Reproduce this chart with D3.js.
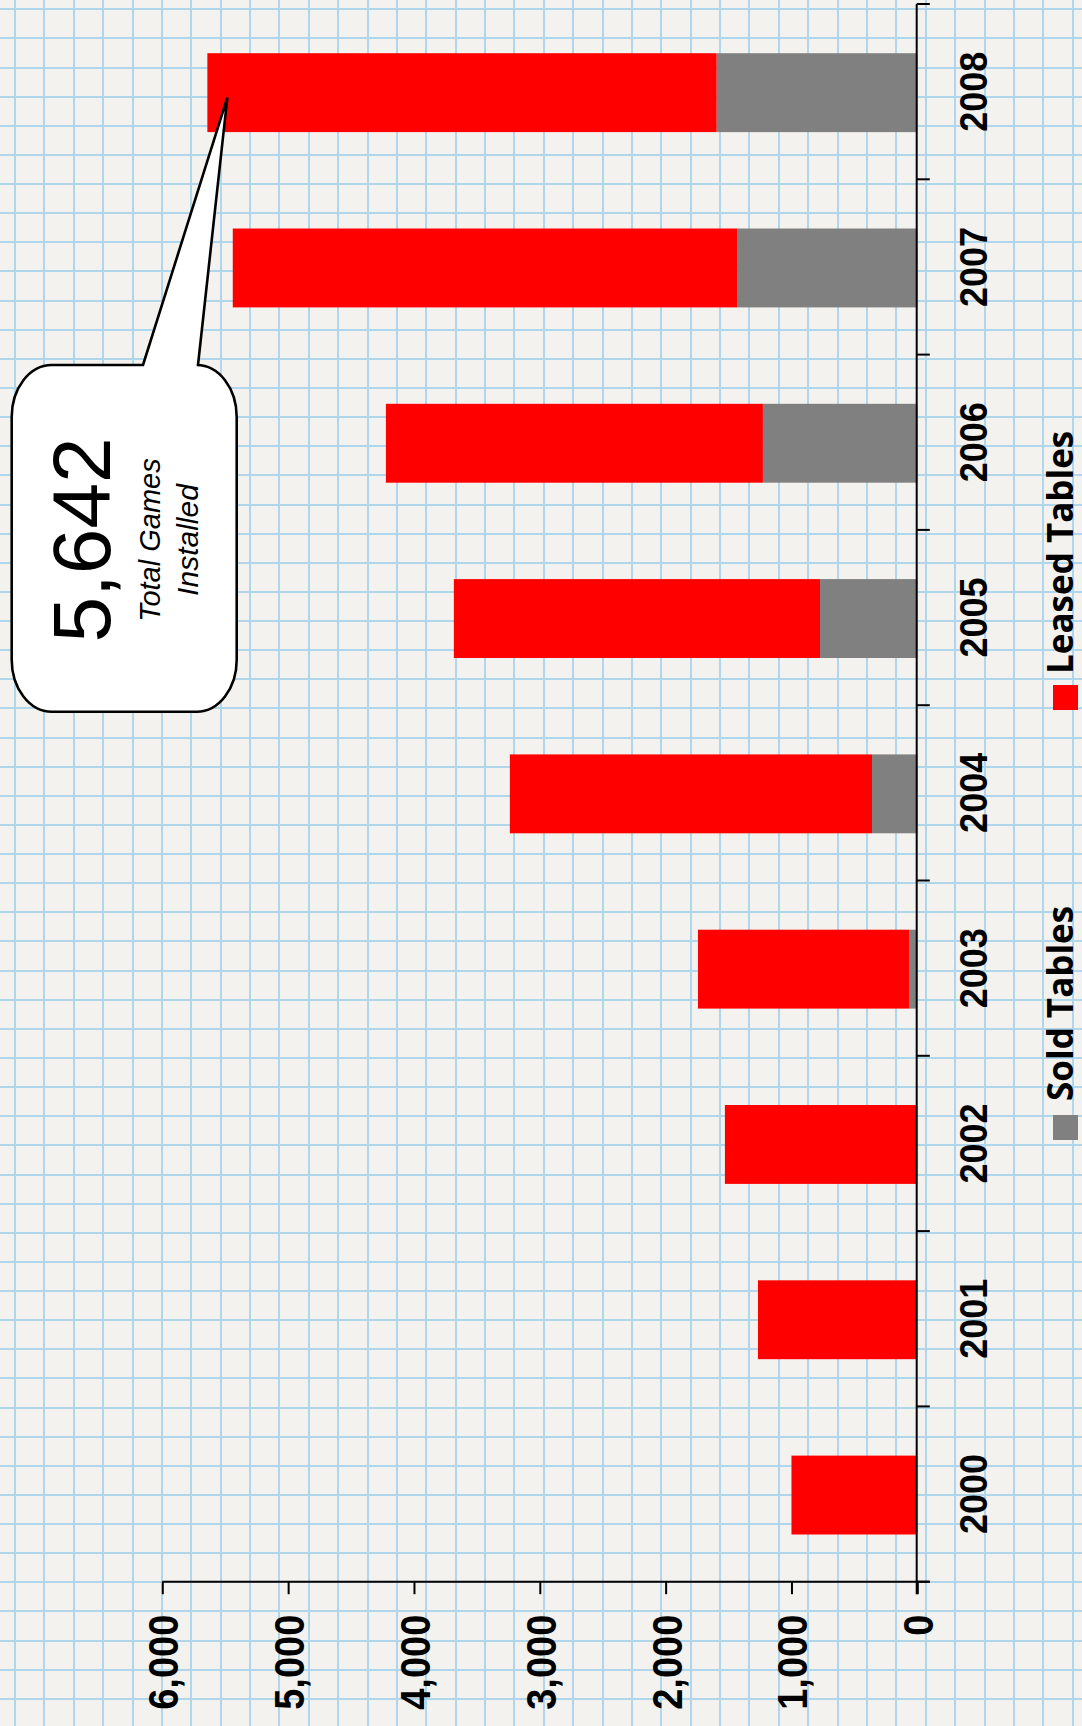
<!DOCTYPE html>
<html>
<head>
<meta charset="utf-8">
<script src="https://cdn.jsdelivr.net/npm/d3@7"></script>
<style>
  html, body { margin: 0; padding: 0; background: #f4f2ee; }
  svg { display: block; }
</style>
</head>
<body>
<svg id="chart" width="1082" height="1726"></svg>
<script>
// ---- data ----
const years = ["2000", "2001", "2002", "2003", "2004", "2005", "2006", "2007", "2008"];
const soldTables = [0, 0, 0, 66, 360, 773, 1227, 1429, 1595];
const leasedTables = [1000, 1266, 1529, 1677, 2878, 2910, 2996, 4011, 4047];
const valueTicks = [0, 1000, 2000, 3000, 4000, 5000, 6000];
const seriesNames = ["Sold Tables", "Leased Tables"];
const seriesColors = ["#808080", "#ff0000"];
const calloutLines = ["Total Games", "Installed"];

// ---- layout ----
const W = 1082, H = 1726;
const svg = d3.select("#chart");

// graph-paper background
svg.append("rect").attr("width", W).attr("height", H).attr("fill", "#f4f2ee");
const grid = svg.append("g").attr("stroke", "#a3d2ea").attr("stroke-width", 2).attr("opacity", 0.85);
for (let x = 15; x < W; x += 29.38) {
  const xx = Math.round(x);
  grid.append("line").attr("x1", xx).attr("x2", xx).attr("y1", 0).attr("y2", H);
}
for (let y = 9.3; y < H; y += 29.13) {
  const yy = Math.round(y);
  grid.append("line").attr("x1", 0).attr("x2", W).attr("y1", yy).attr("y2", yy);
}

// scales (chart is rotated: values run right->left, years bottom->top)
const x0 = 917.3, xMax = 162.3;
const yTop = 4, yBottom = 1581.7;
const xScale = d3.scaleLinear().domain([0, 6000]).range([x0, xMax]);
const yScale = d3.scaleBand().domain(years).range([yBottom, yTop])
  .paddingInner(0.55).paddingOuter(0.275);
const step = yScale.step();

// stacked data
const rows = years.map((y, i) => ({ year: y, sold: soldTables[i], leased: leasedTables[i] }));
const stack = d3.stack().keys(["sold", "leased"])(rows);

const barsG = svg.append("g");
stack.forEach((layer, li) => {
  barsG.selectAll(null).data(layer).enter().append("rect")
    .attr("x", d => xScale(d[1]))
    .attr("width", d => xScale(d[0]) - xScale(d[1]))
    .attr("y", d => yScale(d.data.year) + 1)
    .attr("height", yScale.bandwidth())
    .attr("fill", seriesColors[li]);
});

// value axis (bottom of picture)
const tickLen = 12.5;
const vAxis = svg.append("g").attr("transform", `translate(0,${yBottom})`)
  .call(d3.axisBottom(xScale).tickValues(valueTicks).tickFormat(d3.format(",")).tickSize(tickLen).tickSizeOuter(0));
vAxis.select(".domain").remove();
vAxis.selectAll(".tick line").attr("stroke", "#000").attr("stroke-width", 2);
vAxis.selectAll(".tick text")
  .attr("x", 0).attr("y", 0).attr("dy", "0.37em")
  .attr("transform", "translate(0,33) rotate(-90) scale(1,1.1)")
  .attr("text-anchor", "end")
  .attr("fill", "#000")
  .style("font-family", "'Liberation Sans', Arial, sans-serif")
  .style("font-weight", "bold")
  .style("font-size", "38px");
svg.append("line").attr("x1", xMax).attr("x2", x0 + tickLen).attr("y1", yBottom).attr("y2", yBottom)
  .attr("stroke", "#000").attr("stroke-width", 2);

// category axis (right of picture)
const cAxis = svg.append("g").attr("transform", `translate(${x0 - 0.6},0)`)
  .call(d3.axisRight(yScale).tickSize(0));
cAxis.select(".domain").remove();
cAxis.selectAll(".tick text")
  .attr("x", 0).attr("y", 0).attr("dy", 0)
  .attr("transform", `translate(${988 - x0},0) rotate(-90) scale(1,1.09)`)
  .attr("text-anchor", "middle")
  .attr("fill", "#000")
  .style("font-family", "'Liberation Sans', Arial, sans-serif")
  .style("font-weight", "bold")
  .style("font-size", "36px");
svg.append("line").attr("x1", x0 - 0.6).attr("x2", x0 - 0.6).attr("y1", yTop).attr("y2", yBottom + tickLen)
  .attr("stroke", "#000").attr("stroke-width", 2);
const bounds = d3.range(years.length + 1).map(i => yTop + i * step);
svg.append("g").selectAll("line").data(bounds).enter().append("line")
  .attr("x1", x0 - 0.6).attr("x2", x0 + tickLen)
  .attr("y1", d => d).attr("y2", d => d)
  .attr("stroke", "#000").attr("stroke-width", 2);

// legend
const legendItems = [
  { name: seriesNames[0], color: seriesColors[0], sqY: 1115, textY: 1101 },
  { name: seriesNames[1], color: seriesColors[1], sqY: 685, textY: 674 }
];
const lg = svg.append("g");
legendItems.forEach(it => {
  lg.append("rect").attr("x", 1053).attr("y", it.sqY).attr("width", 25).attr("height", 25).attr("fill", it.color);
  lg.append("text").attr("transform", `translate(1073,${it.textY}) rotate(-90)`)
    .attr("text-anchor", "start")
    .style("font-family", "'Open Sans', sans-serif")
    .style("font-weight", "bold")
    .style("font-size", "35px")
    .attr("fill", "#000")
    .text(it.name);
});

// callout for the 2008 total
const lastIdx = years.length - 1;
const total = soldTables[lastIdx] + leasedTables[lastIdx];
const tipX = xScale(total) + 20, tipY = yScale(years[lastIdx]) + yScale.bandwidth() / 2 + 6;
const bx0 = 11.7, bx1 = 236.7, by0 = 365, by1 = 711.7, rx = 40, ry = 52;
const p = d3.path();
p.moveTo(143, by0);
p.lineTo(tipX, tipY);
p.lineTo(198, by0);
p.lineTo(bx1 - rx, by0);
const pathStr = p.toString() +
  ` A ${rx} ${ry} 0 0 1 ${bx1} ${by0 + ry}` +
  ` L ${bx1} ${by1 - ry}` +
  ` A ${rx} ${ry} 0 0 1 ${bx1 - rx} ${by1}` +
  ` L ${bx0 + rx} ${by1}` +
  ` A ${rx} ${ry} 0 0 1 ${bx0} ${by1 - ry}` +
  ` L ${bx0} ${by0 + ry}` +
  ` A ${rx} ${ry} 0 0 1 ${bx0 + rx} ${by0} Z`;
svg.append("path").attr("d", pathStr).attr("fill", "#fff").attr("stroke", "#000").attr("stroke-width", 2.6)
  .attr("stroke-linejoin", "miter");

const cy = 540;
svg.append("text").attr("transform", `translate(110,${cy}) rotate(-90)`)
  .attr("text-anchor", "middle")
  .style("font-family", "'Liberation Sans', Arial, sans-serif")
  .style("font-size", "82px")
  .attr("fill", "#000")
  .text(d3.format(",")(total));
svg.append("text").attr("transform", `translate(160,${cy}) rotate(-90)`)
  .attr("text-anchor", "middle")
  .style("font-family", "'Liberation Sans', Arial, sans-serif")
  .style("font-style", "italic")
  .style("font-size", "29px")
  .attr("fill", "#000")
  .text(calloutLines[0]);
svg.append("text").attr("transform", `translate(198,${cy}) rotate(-90)`)
  .attr("text-anchor", "middle")
  .style("font-family", "'Liberation Sans', Arial, sans-serif")
  .style("font-style", "italic")
  .style("font-size", "30px")
  .attr("fill", "#000")
  .text(calloutLines[1]);
</script>
</body>
</html>
